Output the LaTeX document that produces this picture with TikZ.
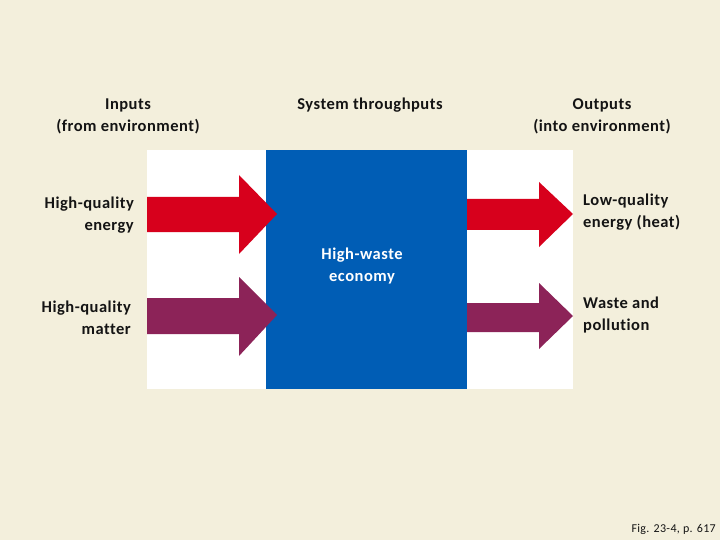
\documentclass[tikz,border=0pt]{standalone}
\usepackage{fontspec}
\setmainfont{Carlito}[LetterSpace=3, Ligatures={NoCommon}]
\newfontfamily\smallfig{Carlito}[LetterSpace=3, Ligatures={NoCommon}]
\definecolor{bgc}{HTML}{F3EFDC}
\definecolor{bluec}{HTML}{005DB5}
\definecolor{redc}{HTML}{D7001C}
\definecolor{purc}{HTML}{8C2358}
\definecolor{txt}{HTML}{141414}
\begin{document}
\begin{tikzpicture}[x=1pt,y=-1pt,
  lbl/.style={font=\fontsize{16.5}{22}\selectfont\bfseries, text=txt, inner sep=0pt}]
\fill[bgc] (0,0) rectangle (720,540);
\useasboundingbox (0,0) rectangle (720,540);
\node[fill=white, minimum width=426pt, minimum height=239pt, inner sep=0pt, anchor=north west] (field) at (147,150) {};
\node[fill=bluec, minimum width=201pt, minimum height=239pt, inner sep=0pt, anchor=north west] (econ) at (266,150) {};
% arrows
\fill[redc] (147,197) -- (239,197) -- (239,175) -- (277,214) -- (239,254) -- (239,232) -- (147,232) -- cycle;
\fill[purc] (147,298) -- (239,298) -- (239,277) -- (277,315) -- (239,356) -- (239,334) -- (147,334) -- cycle;
\fill[redc] (467,199) -- (539,199) -- (539,182) -- (573,214) -- (539,247) -- (539,230) -- (467,230) -- cycle;
\fill[purc] (467,303) -- (539,303) -- (539,283) -- (573,316) -- (539,349) -- (539,332) -- (467,332) -- cycle;
% headers
\node[lbl, align=center] (inputs) at (128,116) {Inputs\\(from environment)};
\node[lbl, align=center] (through) at (370,105) {System throughputs};
\node[lbl, align=center] (outputs) at (602,116) {Outputs\\(into environment)};
% side labels
\node[lbl, align=right, anchor=east] (hqe) at (134,215) {High-quality\\energy};
\node[lbl, align=right, anchor=east] (hqm) at (131,318) {High-quality\\matter};
\node[lbl, align=left, anchor=west] (lqe) at (583,212) {Low-quality\\energy (heat)};
\node[lbl, align=left, anchor=west] (wap) at (583,315) {Waste and\\pollution};
\node[lbl, align=center, text=white] (hwe) at (362,266) {High-waste\\economy};
\node[font=\smallfig\fontsize{12}{14}\selectfont, text=txt, anchor=east, inner sep=0pt] (fig) at (716,529) {Fig. 23-4, p. 617};
\end{tikzpicture}
\end{document}
